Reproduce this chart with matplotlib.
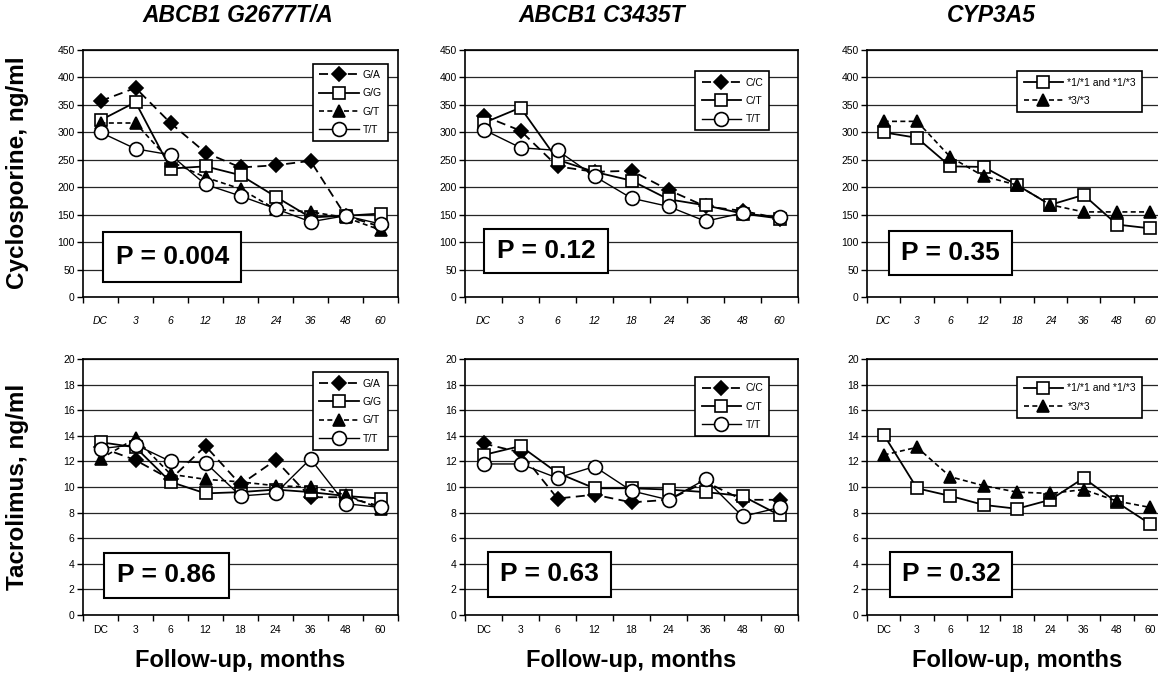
import numpy as np
import matplotlib
matplotlib.use("Agg")
import matplotlib.pyplot as plt
from matplotlib.patches import Rectangle
from matplotlib.ticker import FixedLocator

plt.rcParams['font.family'] = ['Liberation Sans', 'DejaVu Sans']

months = ['DC', '3', '6', '12', '18', '24', '36', '48', '60']

# Cyclosporine, ng/ml
cya_g2677 = {
    'G/A': [357, 381, 317, 263, 236, 240, 248, 148, 128],
    'G/G': [322, 355, 234, 238, 222, 183, 145, 148, 152],
    'G/T': [317, 317, 247, 218, 197, 160, 155, 145, 122],
    'T/T': [300, 270, 259, 205, 184, 161, 137, 148, 133],
}
cya_c3435 = {
    'C/C': [330, 303, 238, 228, 230, 195, 165, 157, 143],
    'C/T': [317, 345, 250, 228, 212, 178, 167, 152, 143],
    'T/T': [305, 272, 267, 220, 180, 165, 138, 153, 145],
}
cya_cyp3a5 = {
    '*1/*1 and *1/*3': [300, 290, 238, 237, 204, 168, 186, 132, 125],
    '*3/*3': [320, 320, 255, 220, 204, 168, 155, 155, 155],
}

# Tacrolimus, ng/ml
tac_g2677 = {
    'G/A': [13.1, 12.1, 10.6, 13.2, 10.2, 12.1, 9.2, 9.2, 8.5],
    'G/G': [13.5, 13.1, 10.4, 9.5, 9.6, 9.8, 9.6, 9.3, 9.1],
    'G/T': [12.2, 13.8, 11.0, 10.6, 10.4, 10.1, 10.0, 9.4, 8.3],
    'T/T': [13.0, 13.3, 12.0, 11.9, 9.3, 9.5, 12.2, 8.7, 8.4],
}
tac_c3435 = {
    'C/C': [13.4, 12.7, 9.1, 9.4, 8.8, 9.0, 10.4, 9.0, 9.0],
    'C/T': [12.5, 13.2, 11.1, 9.9, 9.9, 9.8, 9.6, 9.3, 7.8],
    'T/T': [11.8, 11.8, 10.7, 11.6, 9.7, 9.0, 10.6, 7.7, 8.4],
}
tac_cyp3a5 = {
    '*1/*1 and *1/*3': [14.1, 9.9, 9.3, 8.6, 8.3, 9.0, 10.7, 8.8, 7.1],
    '*3/*3': [12.5, 13.1, 10.8, 10.1, 9.6, 9.5, 9.8, 8.9, 8.4],
}

titles = ['ABCB1 G2677T/A', 'ABCB1 C3435T', 'CYP3A5']
p_top = ['P = 0.004', 'P = 0.12', 'P = 0.35']
p_bot = ['P = 0.86', 'P = 0.63', 'P = 0.32']

# marker / line style per genotype
styles = {
    'G/A': dict(marker='D', ms=7, mfc='black', ls=(0, (5, 3)), lw=1.3),
    'C/C': dict(marker='D', ms=7, mfc='black', ls=(0, (5, 3)), lw=1.3),
    'G/G': dict(marker='s', ms=8, mfc='white', ls='-', lw=1.3),
    'C/T': dict(marker='s', ms=8, mfc='white', ls='-', lw=1.3),
    '*1/*1 and *1/*3': dict(marker='s', ms=8, mfc='white', ls='-', lw=1.3),
    'G/T': dict(marker='^', ms=8, mfc='black', ls=(0, (3, 2)), lw=1.2),
    '*3/*3': dict(marker='^', ms=8, mfc='black', ls=(0, (3, 2)), lw=1.2),
    'T/T': dict(marker='o', ms=10, mfc='white', ls='-', lw=1.0),
}

fig = plt.figure(figsize=(11.58, 6.79), dpi=100)

lefts = [83 / 1158, 465 / 1158, 867 / 1158]
widths = [315 / 1158, 333 / 1158, 300 / 1158]
top_row = (1 - 297 / 679, 247 / 679)
bot_row = (1 - 615 / 679, 256 / 679)

# P box (center x, width, center y, height) in axes coords
pbox_top = [(0.283, 0.44, 0.162, 0.20), (0.243, 0.37, 0.186, 0.178), (0.277, 0.41, 0.178, 0.178)]
pbox_bot = [(0.266, 0.396, 0.156, 0.176), (0.254, 0.37, 0.16, 0.176), (0.28, 0.407, 0.16, 0.176)]
leg_top = [(0.985, 0.965), (0.93, 0.935), (0.935, 0.935)]
leg_bot = [(0.985, 0.968), (0.93, 0.95), (0.935, 0.95)]

x = np.arange(len(months))


def draw(ax, data, ymax, ystep, ptxt, pbox, legpos, italic, xpad):
    for name, vals in data.items():
        st = styles[name]
        ax.plot(x, vals, color='black', marker=st['marker'], ms=st['ms'],
                mfc=st['mfc'], mec='black', mew=1.2, ls=st['ls'], lw=st['lw'],
                label=name, zorder=3)
    ax.set_xlim(-0.5, len(months) - 0.5)
    ax.set_ylim(0, ymax)
    ax.set_yticks(np.arange(0, ymax + ystep / 2, ystep))
    ax.yaxis.grid(True, color='0.15', lw=0.9)
    ax.set_axisbelow(True)
    ax.set_xticks(x)
    ax.set_xticklabels(months, style='italic' if italic else 'normal', fontsize=7.5)
    ax.tick_params(axis='x', which='major', length=0, pad=xpad)
    ax.xaxis.set_minor_locator(FixedLocator(np.arange(-0.5, len(months), 1.0)))
    ax.tick_params(axis='x', which='minor', length=4, width=1)
    ax.tick_params(axis='y', length=4, width=1, labelsize=7.5, pad=2)
    for s in ax.spines.values():
        s.set_linewidth(1.2)
    cx, w, cy, h = pbox
    ax.add_patch(Rectangle((cx - w / 2, cy - h / 2), w, h, transform=ax.transAxes,
                           facecolor='white', edgecolor='black', lw=1.5, zorder=4))
    ax.text(cx, cy, ptxt, transform=ax.transAxes, ha='center', va='center',
            fontsize=19, fontweight='bold', zorder=5)
    leg = ax.legend(loc='upper right', bbox_to_anchor=legpos, fontsize=7.5,
                    frameon=True, fancybox=False, edgecolor='black',
                    handlelength=3.8, labelspacing=0.8, borderpad=0.6,
                    handletextpad=0.4, framealpha=1)
    leg.get_frame().set_linewidth(1.2)


top_data = [cya_g2677, cya_c3435, cya_cyp3a5]
bot_data = [tac_g2677, tac_c3435, tac_cyp3a5]

for i in range(3):
    ax = fig.add_axes([lefts[i], top_row[0], widths[i], top_row[1]])
    draw(ax, top_data[i], 450, 50, p_top[i], pbox_top[i], leg_top[i], True, 14)

    ax2 = fig.add_axes([lefts[i], bot_row[0], widths[i], bot_row[1]])
    draw(ax2, bot_data[i], 20, 2, p_bot[i], pbox_bot[i], leg_bot[i], False, 7)

    fig.text(lefts[i] + widths[i] / 2, 1 - 660 / 679, 'Follow-up, months',
             ha='center', va='center', fontsize=17, fontweight='bold')

fig.text(18 / 1158, 1 - 173 / 679, 'Cyclosporine, ng/ml', rotation=90,
         ha='center', va='center', fontsize=17.5, fontweight='bold')
fig.text(18 / 1158, 1 - 487 / 679, 'Tacrolimus, ng/ml', rotation=90,
         ha='center', va='center', fontsize=17.5, fontweight='bold')

title_x = [238 / 1158, 602 / 1158, 991 / 1158]
for tx, t in zip(title_x, titles):
    fig.text(tx, 1 - 16 / 679, t, ha='center', va='center', fontsize=16.5,
             fontweight='bold', style='italic')

fig.savefig('out.png', dpi=100)
